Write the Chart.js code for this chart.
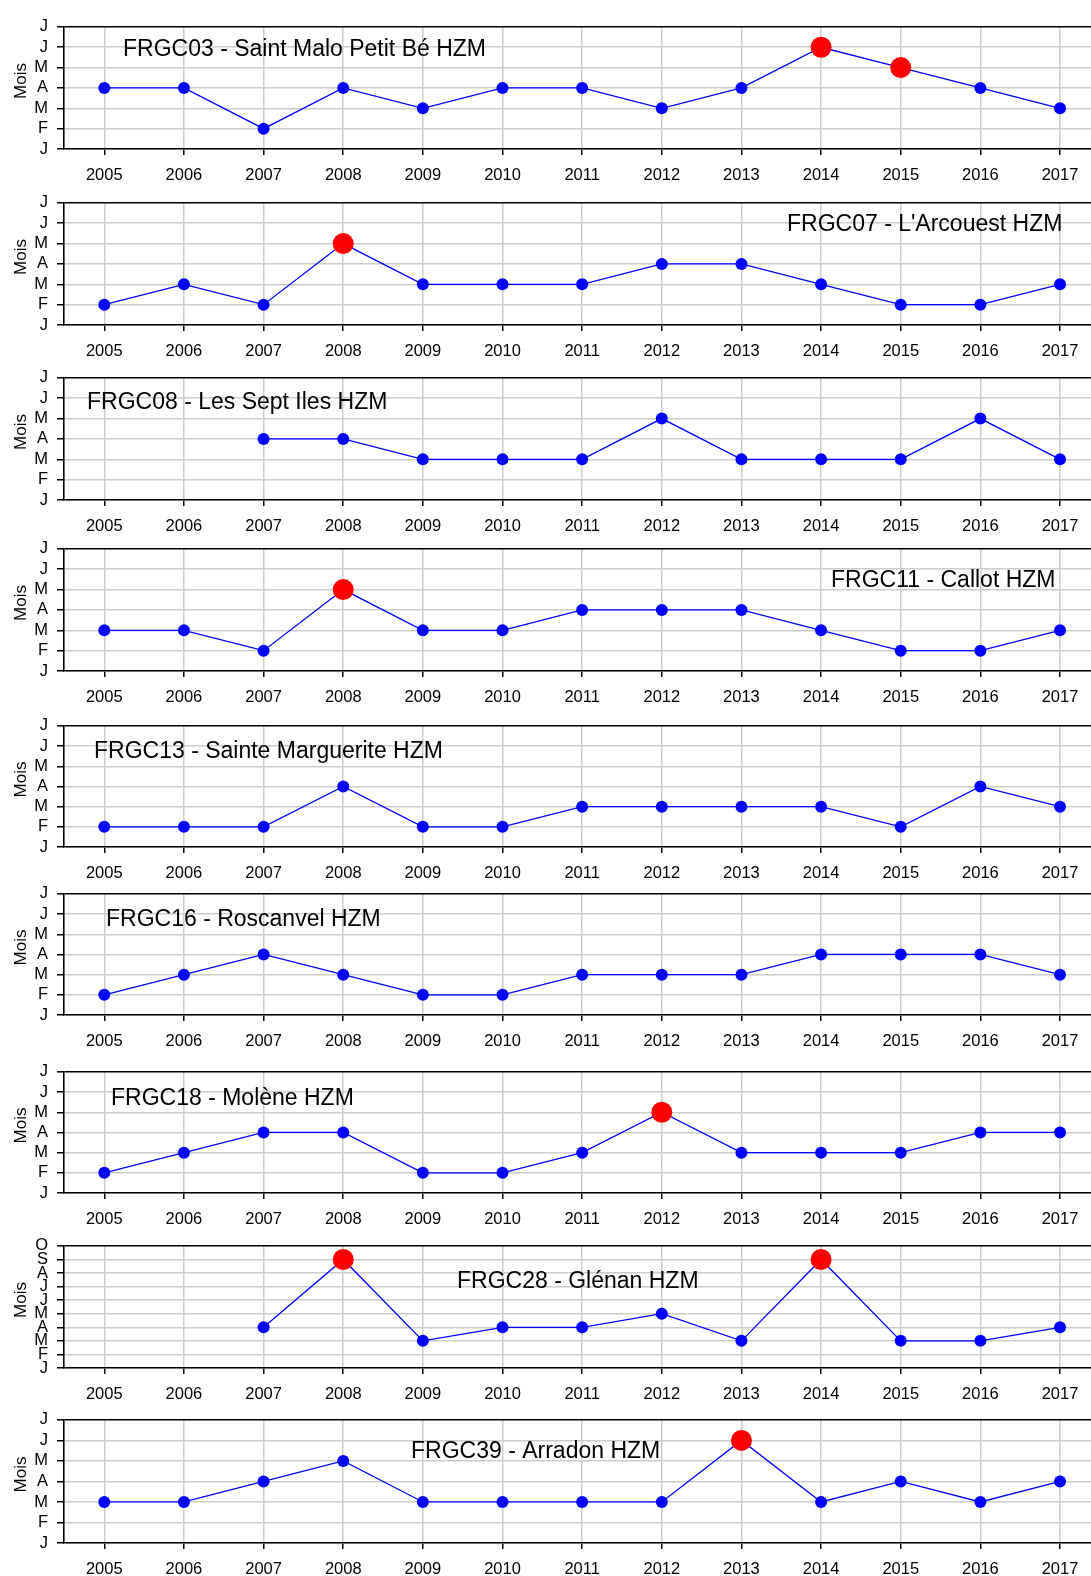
<!DOCTYPE html>
<html>
<head>
<meta charset="utf-8">
<script src="https://cdn.jsdelivr.net/npm/chart.js@4"></script>
<style>
  body { margin: 0; background: #fff; }
  #page { position: relative; width: 1091px; height: 1576px; overflow: hidden; }
  .panel { position: absolute; left: 0; width: 1091px; }
</style>
</head>
<body>
<div id="page"></div>
<script>
// Data: month of the event (1 = janvier) per year
const years = [2005, 2006, 2007, 2008, 2009, 2010, 2011, 2012, 2013, 2014, 2015, 2016, 2017];
const monthLetters = ['J', 'F', 'M', 'A', 'M', 'J', 'J', 'A', 'S', 'O', 'N', 'D'];

const stations = [
    'FRGC03 - Saint Malo Petit Bé HZM',
    "FRGC07 - L'Arcouest HZM",
    'FRGC08 - Les Sept Iles HZM',
    'FRGC11 - Callot HZM',
    'FRGC13 - Sainte Marguerite HZM',
    'FRGC16 - Roscanvel HZM',
    'FRGC18 - Molène HZM',
    'FRGC28 - Glénan HZM',
    'FRGC39 - Arradon HZM'
];

const moisFRGC03 = [4, 4, 2, 4, 3, 4, 4, 3, 4, 6, 5, 4, 3];
const moisFRGC07 = [2, 3, 2, 5, 3, 3, 3, 4, 4, 3, 2, 2, 3];
const moisFRGC08 = [null, null, 4, 4, 3, 3, 3, 5, 3, 3, 3, 5, 3];
const moisFRGC11 = [3, 3, 2, 5, 3, 3, 4, 4, 4, 3, 2, 2, 3];
const moisFRGC13 = [2, 2, 2, 4, 2, 2, 3, 3, 3, 3, 2, 4, 3];
const moisFRGC16 = [2, 3, 4, 3, 2, 2, 3, 3, 3, 4, 4, 4, 3];
const moisFRGC18 = [2, 3, 4, 4, 2, 2, 3, 5, 3, 3, 3, 4, 4];
const moisFRGC28 = [null, null, 4, 9, 3, 4, 4, 5, 3, 9, 3, 3, 4];
const moisFRGC39 = [3, 3, 4, 5, 3, 3, 3, 3, 6, 3, 4, 3, 4];

// years drawn as big red points
const rougeFRGC03 = [2014, 2015];
const rougeFRGC07 = [2008];
const rougeFRGC08 = [];
const rougeFRGC11 = [2008];
const rougeFRGC13 = [];
const rougeFRGC16 = [];
const rougeFRGC18 = [2012];
const rougeFRGC28 = [2008, 2014];
const rougeFRGC39 = [2013];

// last month shown on each y axis
const moisMax = [7, 7, 7, 7, 7, 7, 7, 10, 7];

const series = [moisFRGC03, moisFRGC07, moisFRGC08, moisFRGC11, moisFRGC13,
                moisFRGC16, moisFRGC18, moisFRGC28, moisFRGC39];
const rouges = [rougeFRGC03, rougeFRGC07, rougeFRGC08, rougeFRGC11, rougeFRGC13,
                rougeFRGC16, rougeFRGC18, rougeFRGC28, rougeFRGC39];

// layout (page pixels)
const panelTop = [23, 199, 374, 545, 722, 890, 1068, 1242, 1416];
const panelHeight = [126, 126, 126, 126, 125, 125, 125, 126, 127];
const titlePos = [[123, 47.5], [787, 223], [87, 400.5], [831, 579], [94, 749.5],
                  [106, 918], [111, 1097], [457, 1279.5], [411, 1450]];
const PAD_TOP = 15;
const AXIS_H = 40;
const FONT = "'Liberation Sans', Arial, sans-serif";

Chart.defaults.font.family = FONT;
Chart.defaults.color = '#000';

const panelText = {
    id: 'panelText',
    beforeDatasetsDraw(chart, args, opts) {
        const ctx = chart.ctx;
        ctx.save();
        ctx.fillStyle = '#000';
        ctx.font = '23px ' + FONT;
        ctx.textAlign = 'left';
        ctx.textBaseline = 'alphabetic';
        ctx.fillText(opts.title, opts.x, opts.y + 23 * 0.358);
        ctx.restore();
    },
    afterDraw(chart) {
        const ctx = chart.ctx;
        const area = chart.chartArea;
        ctx.save();
        ctx.translate(26, (area.top + area.bottom) / 2 - 7);
        ctx.rotate(-Math.PI / 2);
        ctx.font = '17px ' + FONT;
        ctx.fillStyle = '#000';
        ctx.textAlign = 'center';
        ctx.textBaseline = 'alphabetic';
        ctx.fillText('Mois', 0, 0);
        ctx.restore();
    }
};

const page = document.getElementById('page');

series.forEach(function(values, i) {
    const div = document.createElement('div');
    div.className = 'panel';
    const top = panelTop[i] - PAD_TOP;
    div.style.top = top + 'px';
    div.style.height = (panelHeight[i] + PAD_TOP + AXIS_H) + 'px';
    const canvas = document.createElement('canvas');
    div.appendChild(canvas);
    page.appendChild(div);

    const isRed = years.map(y => rouges[i].includes(y));
    const yMax = moisMax[i];

    new Chart(canvas, {
        type: 'line',
        data: {
            datasets: [{
                data: years.map((y, k) => ({ x: y, y: values[k] })),
                borderColor: '#0000ff',
                borderWidth: 1.3,
                tension: 0,
                pointRadius: isRed.map(r => r ? 10.5 : 6),
                pointBackgroundColor: isRed.map(r => r ? '#ff0000' : '#0000ff'),
                pointBorderWidth: 0,
                pointBorderColor: 'rgba(0,0,0,0)',
                clip: false
            }]
        },
        options: {
            responsive: true,
            maintainAspectRatio: false,
            animation: false,
            events: [],
            layout: { autoPadding: false, padding: { top: PAD_TOP, right: 0, bottom: 0, left: 0 } },
            plugins: {
                legend: { display: false },
                tooltip: { enabled: false },
                panelText: { title: stations[i], x: titlePos[i][0], y: titlePos[i][1] - top }
            },
            scales: {
                x: {
                    type: 'linear',
                    min: 2004.494,
                    max: 2017.389,
                    afterFit: s => { s.height = AXIS_H; s.paddingLeft = 0; s.paddingRight = 0; },
                    ticks: {
                        stepSize: 1,
                        includeBounds: false,
                        autoSkip: false,
                        maxRotation: 0,
                        padding: 11,
                        font: { size: 16.5 },
                        callback: v => String(v)
                    },
                    grid: { color: '#cccccc', lineWidth: 1.5, tickLength: 6, tickColor: '#000', tickWidth: 1.5 },
                    border: { color: '#000', width: 1.6 }
                },
                y: {
                    min: 1,
                    max: yMax,
                    afterFit: s => { s.width = 64; },
                    ticks: {
                        stepSize: 1,
                        autoSkip: false,
                        padding: 9,
                        font: { size: 16.5 },
                        callback: v => monthLetters[v - 1]
                    },
                    grid: {
                        color: c => (c.tick && c.tick.value === yMax) ? '#000' : '#cccccc',
                        lineWidth: c => (c.tick && c.tick.value === yMax) ? 1.6 : 1.5,
                        tickLength: 7,
                        tickColor: '#000',
                        tickWidth: 1.5
                    },
                    border: { color: '#000', width: 1.6 }
                }
            }
        },
        plugins: [panelText]
    });
});
</script>
</body>
</html>
